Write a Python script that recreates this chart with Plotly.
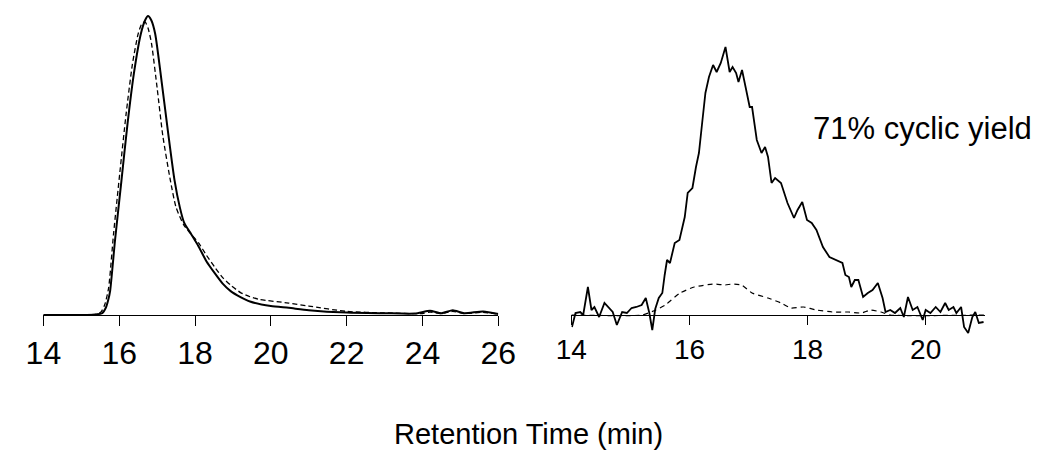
import plotly.graph_objects as go

# ---- Left panel: two SEC traces (normalized intensity) ----
left_solid_x = [14.0, 15.0, 15.4, 15.55, 15.65, 15.71, 15.76, 15.89, 16.06, 16.22, 16.39, 16.57, 16.68,
                16.76, 16.85, 16.95, 17.12, 17.29, 17.46, 17.6, 17.71, 17.9, 18.09, 18.3, 18.52,
                18.73, 18.94, 19.2, 19.45, 20.0, 20.47, 21.0, 22.0, 23.0, 23.8, 24.2, 24.5, 24.8,
                25.1, 25.6, 26.0]
left_solid_y = [0, 0, 0.002, 0.006, 0.025, 0.05, 0.08, 0.25, 0.45, 0.64, 0.81, 0.94, 0.985,
                1.0, 0.985, 0.94, 0.78, 0.61, 0.45, 0.36, 0.31, 0.27, 0.23, 0.18, 0.14,
                0.105, 0.08, 0.06, 0.045, 0.03, 0.024, 0.016, 0.008, 0.006, 0.005, 0.014, 0.006, 0.016,
                0.006, 0.012, 0.003]

left_dash_x = [14.0, 15.0, 15.4, 15.52, 15.62, 15.72, 15.85, 16.02, 16.18, 16.35, 16.5, 16.6, 16.68,
               16.76, 16.85, 17.0, 17.15, 17.35, 17.5, 17.71, 17.9, 18.1, 18.3, 18.52, 18.73,
               18.94, 19.2, 19.45, 19.7, 20.47, 21.0, 22.0, 23.0, 24.0, 24.2, 24.5, 24.8, 25.1,
               25.6, 26.0]
left_dash_y = [0, 0, 0.003, 0.01, 0.035, 0.09, 0.27, 0.48, 0.67, 0.84, 0.94, 0.975, 0.98,
               0.96, 0.91, 0.76, 0.6, 0.45, 0.36, 0.3, 0.27, 0.24, 0.2, 0.16, 0.125,
               0.1, 0.075, 0.061, 0.052, 0.04, 0.03, 0.012, 0.007, 0.005, 0.01, 0.005, 0.012, 0.005,
               0.009, 0.003]

# ---- Right panel: cyclic product traces (arbitrary intensity) ----
right_solid_x = [14.01, 14.07, 14.15, 14.20, 14.28, 14.34, 14.39, 14.47, 14.56, 14.64, 14.70, 14.77,
                 14.86, 14.94, 15.02, 15.10, 15.19, 15.26, 15.32, 15.37, 15.42, 15.48, 15.54, 15.58,
                 15.62, 15.67, 15.75, 15.83, 15.92, 15.97, 16.05, 16.11, 16.16, 16.22, 16.27, 16.33,
                 16.40, 16.46, 16.53, 16.61, 16.68, 16.73, 16.79, 16.83, 16.89, 16.95, 17.02, 17.06,
                 17.14, 17.22, 17.28, 17.33, 17.39, 17.45, 17.55, 17.66, 17.77, 17.83, 17.91, 17.99,
                 18.07, 18.15, 18.26, 18.37, 18.48, 18.59, 18.64, 18.70, 18.74, 18.80, 18.86, 18.94,
                 19.02, 19.10, 19.19, 19.27, 19.32, 19.40, 19.48, 19.57, 19.63, 19.70, 19.78, 19.86,
                 19.95, 20.00, 20.08, 20.17, 20.25, 20.33, 20.39, 20.47, 20.52, 20.60, 20.65, 20.72,
                 20.79, 20.84, 20.90, 20.98]
right_solid_y = [-12, 2, 3, 0, 28, 5, 8, -2, 12, 7, 3, -10,
                 3, 2, 7, 8, 10, 17, 2, -15, 6, 17, 22, 40,
                 55, 52, 72, 75, 98, 122, 127, 148, 162, 195, 222, 238,
                 250, 243, 252, 268, 243, 248, 242, 233, 245, 228, 208, 208,
                 175, 162, 168, 158, 132, 137, 132, 112, 97, 105, 113, 95,
                 92, 85, 68, 58, 55, 52, 40, 38, 28, 35, 35, 18,
                 22, 25, 32, 17, 3, 5, 2, 7, -2, 18, 5, 8,
                 -5, 5, 2, 8, 3, 12, 5, 8, 2, 8, -12, -18,
                 -2, 3, -8, -7]

right_dash_x = [14.0, 15.2, 15.43, 15.59, 15.84, 16.08, 16.41, 16.6, 16.73, 16.88, 17.06, 17.33,
                17.55, 17.72, 17.93, 18.15, 18.42, 18.69, 18.91, 19.07, 19.24, 19.4, 21.0]
right_dash_y = [0, 0, 5, 10, 22, 28, 31, 30, 31, 30, 22, 17,
                12, 7, 8, 5, 3, 3, 2, 5, 3, 0, 0]

left_ticks = [14, 16, 18, 20, 22, 24, 26]
right_ticks = [14, 16, 18, 20]

FONT = "Liberation Sans, Arial, sans-serif"
W, H = 1052, 453
OFF = 8  # page body margin offset of the figure div


def px(xpage):
    return (xpage - OFF) / W


def py(ypage):
    return (H - (ypage - OFF)) / H


fig = go.Figure()

fig.add_trace(go.Scatter(x=left_dash_x, y=left_dash_y, mode="lines", xaxis="x", yaxis="y",
                         line=dict(color="black", width=1.3, dash="5px,3px", shape="spline", smoothing=0.6),
                         showlegend=False, hoverinfo="skip"))
fig.add_trace(go.Scatter(x=left_solid_x, y=left_solid_y, mode="lines", xaxis="x", yaxis="y",
                         line=dict(color="black", width=2, shape="spline", smoothing=0.6),
                         showlegend=False, hoverinfo="skip"))
fig.add_trace(go.Scatter(x=right_dash_x, y=right_dash_y, mode="lines", xaxis="x2", yaxis="y2",
                         line=dict(color="black", width=1.2, dash="5px,4px", shape="spline", smoothing=0.5),
                         showlegend=False, hoverinfo="skip"))
fig.add_trace(go.Scatter(x=right_solid_x, y=right_solid_y, mode="lines", xaxis="x2", yaxis="y2",
                         line=dict(color="black", width=1.8),
                         showlegend=False, hoverinfo="skip"))

base_fig = 315 - OFF          # baseline in figure pixels
ydom = [0.25, 1.0]
bottom_fig = H * (1 - ydom[0])  # bottom of plot area in figure pixels
left_scale = 299.0            # pixels per unit of normalized intensity
left_range = [(base_fig - bottom_fig) / left_scale, base_fig / left_scale]
right_range = [base_fig - bottom_fig, base_fig]

axis_common = dict(showgrid=False, zeroline=False, showline=True, linecolor="black", linewidth=1,
                   ticks="outside", tickcolor="black", tickwidth=1, anchor="free",
                   position=(H - base_fig) / H)

fig.update_layout(
    width=W, height=H,
    margin=dict(l=0, r=0, t=0, b=0),
    paper_bgcolor="white", plot_bgcolor="white",
    font=dict(family=FONT, color="black"),
    xaxis=dict(domain=[px(26), px(497)], range=[14, 26], tickvals=left_ticks,
               ticklen=10, tickfont=dict(size=32, family=FONT, color="black"), **axis_common),
    yaxis=dict(domain=ydom, range=left_range, visible=False),
    xaxis2=dict(domain=[px(572.7), px(1000.7)], range=[14, 21], tickvals=right_ticks,
                ticklen=9, tickfont=dict(size=28, family=FONT, color="black"), **axis_common),
    yaxis2=dict(domain=ydom, range=right_range, visible=False, anchor="x2"),
    annotations=[
        dict(text="71% cyclic yield", x=px(936.7), y=py(128), xref="paper", yref="paper",
             showarrow=False, xanchor="center", yanchor="middle",
             font=dict(size=31, family=FONT, color="black")),
        dict(text="Retention Time (min)", x=px(528), y=py(452), xref="paper", yref="paper",
             showarrow=False, xanchor="center", yanchor="bottom",
             font=dict(size=29, family=FONT, color="black")),
    ],
)

fig.write_html("out.html")
